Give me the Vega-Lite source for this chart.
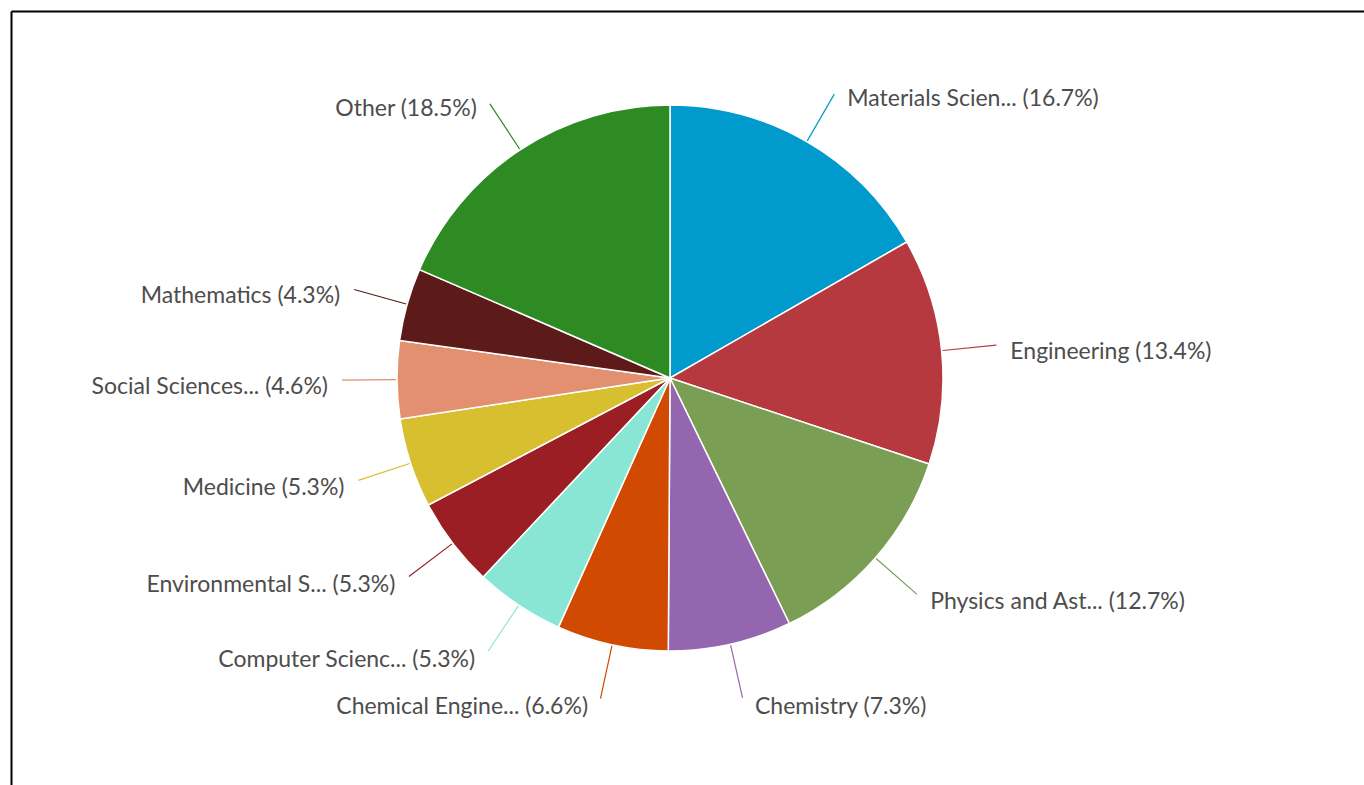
{
  "$schema": "https://vega.github.io/schema/vega-lite/v6.json",
  "autosize": "none",
  "width": 1353,
  "height": 774,
  "padding": {"left": 11, "top": 11, "right": 0, "bottom": 0},
  "background": "white",
  "view": {"stroke": null},
  "config": {"view": {"stroke": null}},
  "data": {"values": [
    {"order": 1, "name": "Materials Science", "label": "Materials Scien... (16.7%)", "value": 16.7},
    {"order": 2, "name": "Engineering", "label": "Engineering (13.4%)", "value": 13.4},
    {"order": 3, "name": "Physics and Astronomy", "label": "Physics and Ast... (12.7%)", "value": 12.7},
    {"order": 4, "name": "Chemistry", "label": "Chemistry (7.3%)", "value": 7.3},
    {"order": 5, "name": "Chemical Engineering", "label": "Chemical Engine... (6.6%)", "value": 6.6},
    {"order": 6, "name": "Computer Science", "label": "Computer Scienc... (5.3%)", "value": 5.3},
    {"order": 7, "name": "Environmental Science", "label": "Environmental S... (5.3%)", "value": 5.3},
    {"order": 8, "name": "Medicine", "label": "Medicine (5.3%)", "value": 5.3},
    {"order": 9, "name": "Social Sciences", "label": "Social Sciences... (4.6%)", "value": 4.6},
    {"order": 10, "name": "Mathematics", "label": "Mathematics (4.3%)", "value": 4.3},
    {"order": 11, "name": "Other", "label": "Other (18.5%)", "value": 18.5}
  ]},
  "transform": [
    {"window": [{"op": "sum", "field": "value", "as": "cum"}], "sort": [{"field": "order"}], "frame": [null, 0]},
    {"calculate": "datum.cum - datum.value / 2", "as": "mid"}
  ],
  "layer": [
    {
      "mark": {"type": "point", "opacity": 0},
      "encoding": {
        "x": {"field": "order", "type": "quantitative", "axis": {"orient": "top", "domain": true, "domainColor": "#000000", "domainWidth": 2, "ticks": false, "labels": false, "grid": false, "title": null}},
        "y": {"field": "value", "type": "quantitative", "axis": {"orient": "left", "domain": true, "domainColor": "#000000", "domainWidth": 2, "ticks": false, "labels": false, "grid": false, "title": null}}
      }
    },
    {
      "mark": {"type": "arc", "radius": 273, "stroke": "white", "strokeWidth": 1.5, "xOffset": -17.5, "yOffset": -20},
      "encoding": {
        "theta": {"field": "value", "type": "quantitative", "stack": true, "scale": {"domain": [0, 100]}},
        "order": {"field": "order", "type": "quantitative"},
        "color": {
          "field": "name", "type": "nominal", "legend": null,
          "scale": {
            "domain": ["Materials Science", "Engineering", "Physics and Astronomy", "Chemistry", "Chemical Engineering", "Computer Science", "Environmental Science", "Medicine", "Social Sciences", "Mathematics", "Other"],
            "range": ["#009acd", "#b5393f", "#7a9e54", "#9566b0", "#d14a02", "#8ae6d4", "#9a1e24", "#d8bf30", "#e2906f", "#5c1a18", "#2e8b24"]
          }
        }
      }
    },
    {
      "mark": {"type": "arc", "radius": 328, "radius2": 274, "filled": false, "strokeWidth": 1.2, "xOffset": -17.5, "yOffset": -20},
      "encoding": {
        "theta": {"field": "mid", "type": "quantitative", "stack": null, "scale": {"domain": [0, 100]}},
        "theta2": {"field": "mid"},
        "stroke": {"field": "name", "type": "nominal", "legend": null,
          "scale": {
            "domain": ["Materials Science", "Engineering", "Physics and Astronomy", "Chemistry", "Chemical Engineering", "Computer Science", "Environmental Science", "Medicine", "Social Sciences", "Mathematics", "Other"],
            "range": ["#009acd", "#b5393f", "#7a9e54", "#9566b0", "#d14a02", "#8ae6d4", "#9a1e24", "#d8bf30", "#e2906f", "#5c1a18", "#2e8b24"]
          }}
      }
    },
    {
      "transform": [{"filter": "datum.mid < 50"}],
      "mark": {"type": "text", "radius": 330, "align": "left", "baseline": "middle", "dx": 12, "dy": 7, "font": "Lato, sans-serif", "fontSize": 23, "color": "#4d4d4d", "xOffset": -17.5, "yOffset": -20},
      "encoding": {
        "theta": {"field": "mid", "type": "quantitative", "stack": null, "scale": {"domain": [0, 100]}},
        "text": {"field": "label"}
      }
    },
    {
      "transform": [{"filter": "datum.mid >= 50"}],
      "mark": {"type": "text", "radius": 330, "align": "right", "baseline": "middle", "dx": -12, "dy": 7, "font": "Lato, sans-serif", "fontSize": 23, "color": "#4d4d4d", "xOffset": -17.5, "yOffset": -20},
      "encoding": {
        "theta": {"field": "mid", "type": "quantitative", "stack": null, "scale": {"domain": [0, 100]}},
        "text": {"field": "label"}
      }
    }
  ]
}
